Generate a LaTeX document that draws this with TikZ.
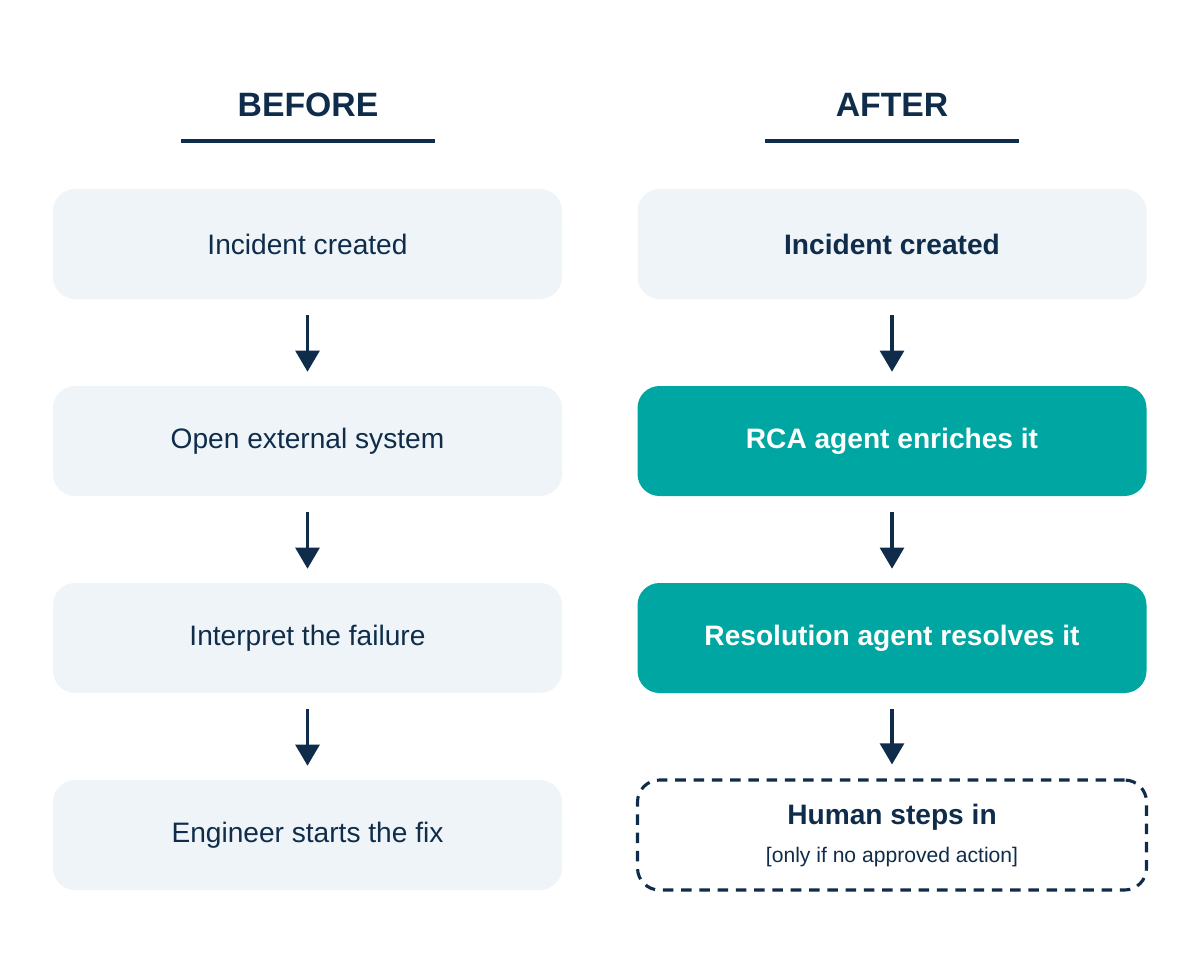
\documentclass[tikz,border=0pt]{standalone}
\usepackage{fontspec}
\setmainfont{Liberation Sans}
\usetikzlibrary{arrows.meta,positioning}
\definecolor{navy}{HTML}{0F2D4A}
\definecolor{paleblue}{HTML}{EFF4F8}
\definecolor{teal}{HTML}{00A6A1}

\begin{document}
\begin{tikzpicture}[
  x=0.025cm,y=-0.025cm,
  stepbox/.style={fill=paleblue, rounded corners=22*0.025cm, align=center, minimum width=509*0.025cm, minimum height=110*0.025cm, font=\fontsize{20}{24}\selectfont, text=navy},
  agentbox/.style={stepbox, fill=teal, text=white, font=\fontsize{20}{24}\selectfont\bfseries},
  humanbox/.style={stepbox, fill=none, draw=navy, line width=2.2pt, dash pattern=on 7.5pt off 5.5pt},
  head/.style={font=\fontsize{24}{28}\selectfont\bfseries, text=navy},
  rule/.style={draw=navy, line width=3pt},
  arr/.style={-{Triangle[length=15pt, width=17pt]}, draw=navy, fill=navy, line width=2.2pt}
]
\useasboundingbox (0,0) rectangle (1200,975);
% column headings
\node[head] (before) at (308,105) {BEFORE};
\node[head] (after) at (892,105) {AFTER};
\draw[rule] (181,141) -- (435,141);
\draw[rule] (765,141) -- (1019,141);
% before column
\node[stepbox] (b1) at (307.5,244) {Incident created};
\node[stepbox] (b2) at (307.5,441) {Open external system};
\node[stepbox] (b3) at (307.5,638) {Interpret the failure};
\node[stepbox] (b4) at (307.5,835) {Engineer starts the fix};
% after column
\node[stepbox, font=\fontsize{20}{24}\selectfont\bfseries] (a1) at (892,244) {Incident created};
\node[agentbox] (a2) at (892,441) {RCA agent enriches it};
\node[agentbox] (a3) at (892,638) {Resolution agent resolves it};
\node[humanbox] (a4) at (892,835) {{\bfseries Human steps in}\\[3pt]{\fontsize{15}{18}\selectfont [only if no approved action]}};
% arrows
\draw[arr] ([yshift=-16*0.025cm]b1.south) -- ([yshift=14*0.025cm]b2.north);
\draw[arr] ([yshift=-16*0.025cm]b2.south) -- ([yshift=14*0.025cm]b3.north);
\draw[arr] ([yshift=-16*0.025cm]b3.south) -- ([yshift=14*0.025cm]b4.north);
\draw[arr] ([yshift=-16*0.025cm]a1.south) -- ([yshift=14*0.025cm]a2.north);
\draw[arr] ([yshift=-16*0.025cm]a2.south) -- ([yshift=14*0.025cm]a3.north);
\draw[arr] ([yshift=-16*0.025cm]a3.south) -- ([yshift=14*0.025cm]a4.north);
\end{tikzpicture}
\end{document}
